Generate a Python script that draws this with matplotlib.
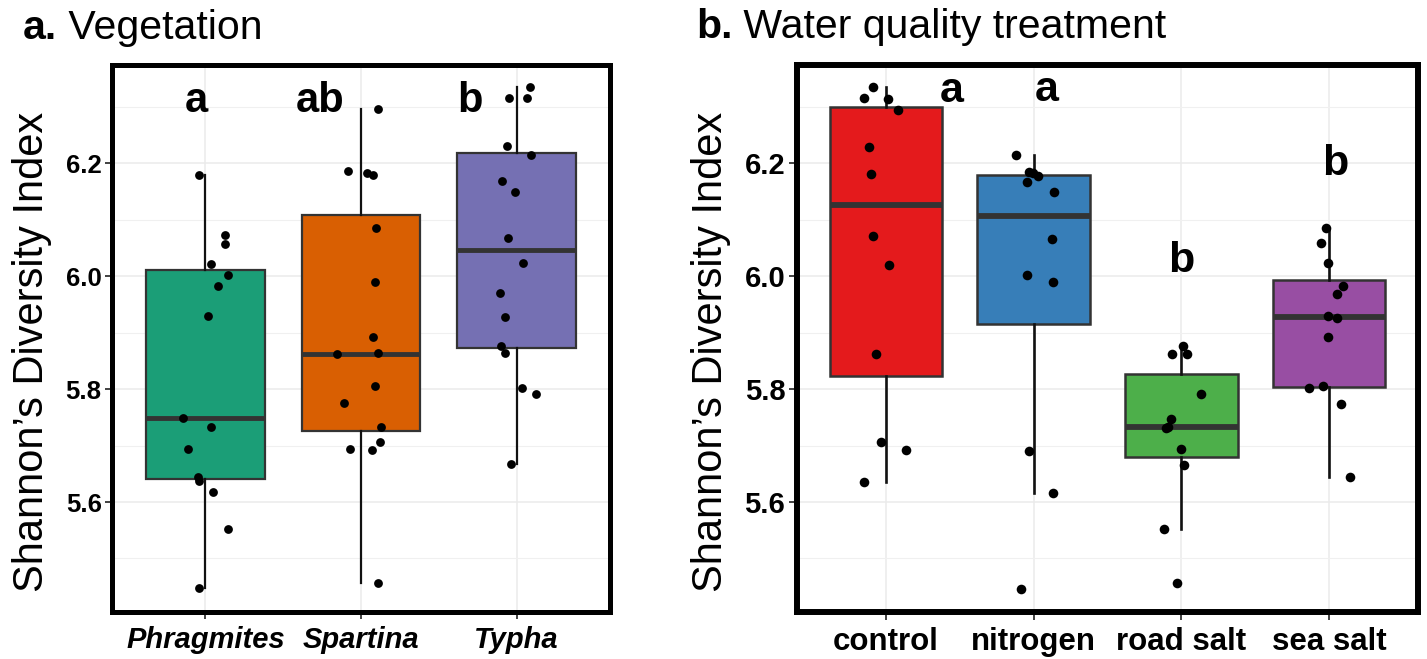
import matplotlib
matplotlib.use('Agg')
import matplotlib.pyplot as plt
from matplotlib.ticker import FixedLocator

plt.rcParams['font.family'] = ['Liberation Sans', 'DejaVu Sans']

# ---------------- data: panel a (vegetation) ----------------
veg_categories = ['Phragmites', 'Spartina', 'Typha']
veg_colors = ['#1B9E77', '#D95F02', '#7570B3']

phragmites_vals = [6.179, 6.073, 6.057, 6.021, 6.002, 5.983, 5.930, 5.749, 5.733,
                   5.694, 5.644, 5.637, 5.618, 5.552, 5.448]
phragmites_jit = [-0.044, 0.123, 0.123, 0.037, 0.148, 0.084, 0.017, -0.143, 0.034,
                  -0.111, -0.049, -0.039, 0.047, 0.148, -0.042]

spartina_vals = [6.296, 6.186, 6.182, 6.179, 6.085, 5.990, 5.892, 5.862, 5.863,
                 5.805, 5.775, 5.733, 5.706, 5.694, 5.692, 5.456]
spartina_jit = [0.111, -0.086, 0.037, 0.074, 0.098, 0.093, 0.079, -0.152, 0.111,
                0.093, -0.111, 0.130, 0.123, -0.069, 0.069, 0.111]

typha_vals = [6.334, 6.315, 6.315, 6.231, 6.214, 6.169, 6.149, 6.068, 6.023, 5.970,
              5.927, 5.876, 5.863, 5.802, 5.792, 5.667]
typha_jit = [0.089, -0.047, 0.069, -0.059, 0.093, -0.096, -0.010, -0.054, 0.044,
             -0.108, -0.074, -0.103, -0.074, 0.037, 0.123, -0.034]

veg_letters = ['a', 'ab', 'b']
veg_letter_dx = [-0.06, -0.26, -0.30]
veg_letter_y = [6.29, 6.29, 6.29]

# ---------------- data: panel b (water quality) ----------------
wq_categories = ['control', 'nitrogen', 'road salt', 'sea salt']
wq_colors = ['#E41A1C', '#377EB8', '#4DAF4A', '#984EA3']

control_vals = [6.334, 6.315, 6.313, 6.294, 6.229, 6.181, 6.070, 6.019, 5.862,
                5.706, 5.692, 5.635]
control_jit = [-0.088, -0.150, 0.013, 0.085, -0.113, -0.097, -0.088, 0.022, -0.066,
               -0.034, 0.138, -0.144]

nitrogen_vals = [6.214, 6.184, 6.177, 6.166, 6.148, 6.066, 6.001, 5.989, 5.690,
                 5.616, 5.446, 6.182]
nitrogen_jit = [-0.116, -0.031, 0.031, -0.044, 0.141, 0.125, -0.047, 0.132, -0.031,
                0.132, -0.088, -0.006]

roadsalt_vals = [5.876, 5.862, 5.862, 5.791, 5.747, 5.731, 5.733, 5.694, 5.665,
                 5.552, 5.457]
roadsalt_jit = [0.009, -0.063, 0.038, 0.132, -0.072, -0.103, -0.094, -0.006, 0.016,
                -0.119, -0.031]

seasalt_vals = [6.085, 6.058, 6.023, 5.983, 5.969, 5.929, 5.925, 5.892, 5.801,
                5.805, 5.773, 5.644]
seasalt_jit = [-0.019, -0.056, -0.009, 0.094, 0.053, -0.009, 0.053, -0.009, -0.135,
               -0.041, 0.078, 0.138]

wq_letters = ['a', 'a', 'b', 'b']
wq_letter_dx = [0.446, 0.09, 0.0, 0.04]
wq_letter_y = [6.308, 6.31, 6.007, 6.179]

y_ticks = [5.6, 5.8, 6.0, 6.2]
y_minor = [5.5, 5.7, 5.9, 6.1, 6.3]
y_lim = (5.4053, 6.3735)
y_label = 'Shannon\u2019s Diversity Index'

W, H = 1427, 659
fig = plt.figure(figsize=(W / 100, H / 100), dpi=100)


def panel(rect, cats, vals, jits, colors, letters, ldx, ly, s):
    ax = fig.add_axes(rect)
    pos = list(range(1, len(cats) + 1))
    bp = ax.boxplot(vals, positions=pos, widths=0.76, patch_artist=True,
                    showfliers=False, showcaps=False, whis=1.5,
                    boxprops=dict(edgecolor='#333333', lw=s['box_lw']),
                    medianprops=dict(color='#333333', lw=s['med_lw'], solid_capstyle='butt'),
                    whiskerprops=dict(color='#111111', lw=s['whisk_lw']))
    for patch, c in zip(bp['boxes'], colors):
        patch.set_facecolor(c)
    for p, v, j in zip(pos, vals, jits):
        ax.scatter([p + d for d in j], v, s=s['pt_s'], color='black',
                   zorder=4, linewidths=0)
    for p, t, dx, yy in zip(pos, letters, ldx, ly):
        ax.text(p + dx, yy, t, ha='center', va='baseline',
                fontsize=s['let_fs'], fontweight='bold', color='black')

    ax.set_xlim(0.4, len(cats) + 0.6)
    ax.set_ylim(*y_lim)
    ax.xaxis.set_major_locator(FixedLocator(pos))
    ax.set_xticklabels(cats)
    ax.yaxis.set_major_locator(FixedLocator(y_ticks))
    ax.yaxis.set_minor_locator(FixedLocator(y_minor))
    ax.set_yticklabels(['%.1f' % t for t in y_ticks])
    ax.grid(which='major', color='#EBEBEB', lw=1.1)
    ax.grid(which='minor', axis='y', color='#F0F0F0', lw=0.8)
    ax.set_axisbelow(True)

    for sp in ax.spines.values():
        sp.set_linewidth(s['frame_lw'])
        sp.set_color('black')
    ax.tick_params(axis='both', which='major', direction='out', length=s['tick_len'],
                   width=1.3, color='#333333')
    ax.tick_params(axis='y', which='minor', length=0)
    ax.tick_params(axis='y', labelsize=s['ytick_fs'], pad=2.5)
    ax.tick_params(axis='x', labelsize=s['xtick_fs'], pad=s['xpad'])
    for lab in ax.get_yticklabels():
        lab.set_fontweight('bold')
        lab.set_color('black')
    for lab in ax.get_xticklabels():
        lab.set_fontweight('bold')
        lab.set_color('black')
        if s['italic']:
            lab.set_fontstyle('italic')
    return ax


style_a = dict(box_lw=1.6, med_lw=3.5, whisk_lw=1.6, pt_s=40, let_fs=30,
               frame_lw=3.6, tick_len=5, ytick_fs=18.5, xtick_fs=21, xpad=5,
               italic=True)
style_b = dict(box_lw=1.8, med_lw=4.2, whisk_lw=1.9, pt_s=48, let_fs=31,
               frame_lw=4.3, tick_len=6, ytick_fs=21, xtick_fs=22.5, xpad=5,
               italic=False)

ax1 = panel([112 / W, 1 - 612 / H, 498 / W, 547 / H], veg_categories,
            [phragmites_vals, spartina_vals, typha_vals],
            [phragmites_jit, spartina_jit, typha_jit],
            veg_colors, veg_letters, veg_letter_dx, veg_letter_y, style_a)
ax2 = panel([797 / W, 1 - 612 / H, 621 / W, 547 / H], wq_categories,
            [control_vals, nitrogen_vals, roadsalt_vals, seasalt_vals],
            [control_jit, nitrogen_jit, roadsalt_jit, seasalt_jit],
            wq_colors, wq_letters, wq_letter_dx, wq_letter_y, style_b)

# y labels
fig.text(43 / W, 1 - 352 / H, y_label, rotation=90, rotation_mode='anchor',
         ha='center', va='baseline', fontsize=30)
fig.text(722 / W, 1 - 352 / H, y_label, rotation=90, rotation_mode='anchor',
         ha='center', va='baseline', fontsize=30)

# titles: bold panel letter + regular text
renderer = fig.canvas.get_renderer()


def title(x_px, base_px, letter, text, fs):
    t1 = fig.text(x_px / W, 1 - base_px / H, letter, fontsize=fs, fontweight='bold',
                  va='baseline', ha='left')
    bb = t1.get_window_extent(renderer)
    fig.text(bb.x1 / W, 1 - base_px / H, '\u00a0' + text, fontsize=fs,
             va='baseline', ha='left')


title(23, 39, 'a.', 'Vegetation', 29.5)
title(696, 38, 'b.', 'Water quality treatment', 29.5)

fig.savefig('out.png', dpi=100)
